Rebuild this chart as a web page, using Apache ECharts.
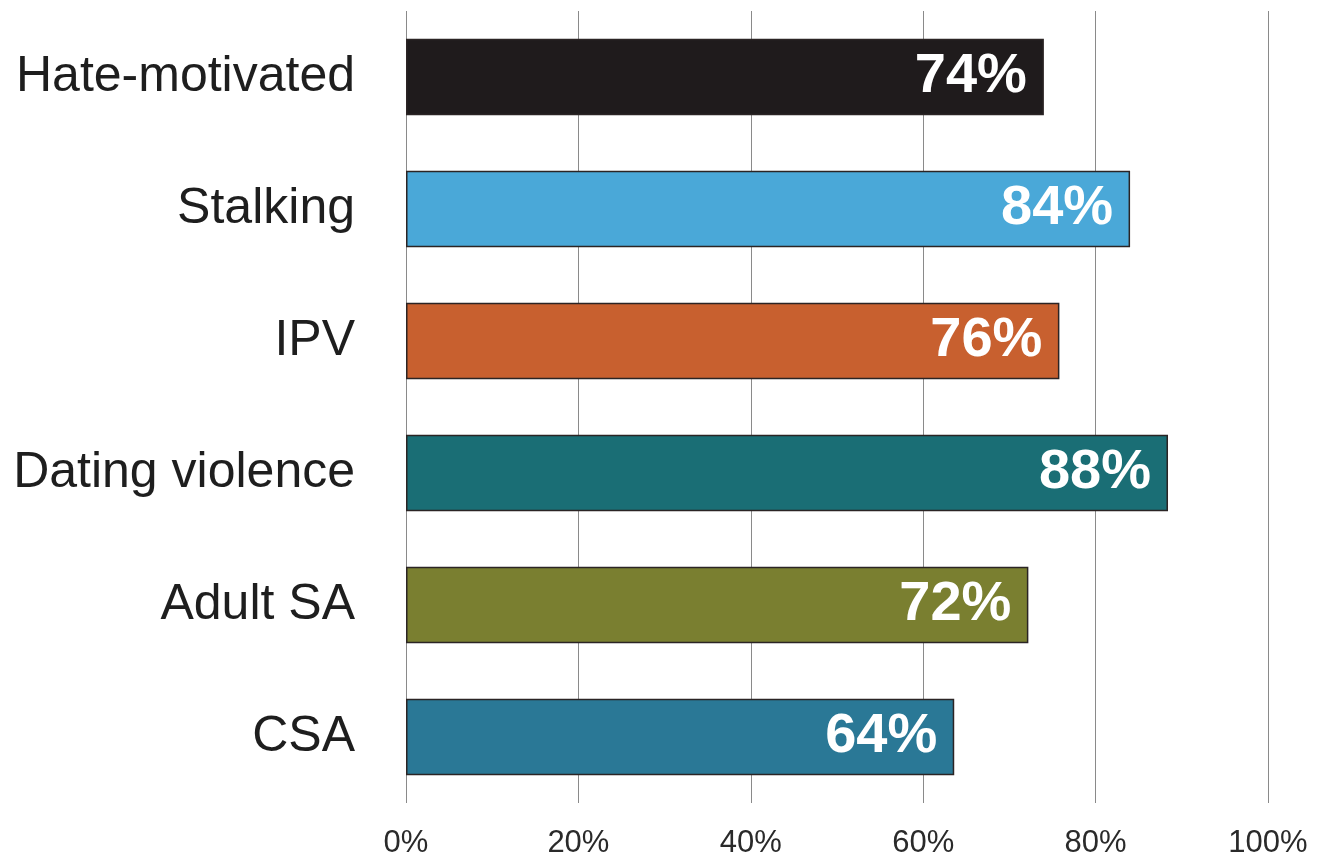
<!DOCTYPE html>
<html>
<head>
<meta charset="utf-8">
<script src="https://cdn.jsdelivr.net/npm/echarts@6/dist/echarts.min.js"></script>
<style>
  html, body { margin: 0; padding: 0; background: #fff; }
  #chart { width: 1318px; height: 859px; }
</style>
</head>
<body>
<div id="chart"></div>
<script>
// categories, top to bottom
var categories = ['Hate-motivated', 'Stalking', 'IPV', 'Dating violence', 'Adult SA', 'CSA'];
// bar lengths (percent)
var values = [74, 84, 75.8, 88.4, 72.2, 63.6];
// printed labels
var valueLabels = ['74%', '84%', '76%', '88%', '72%', '64%'];
var barColors = ['#1f1b1c', '#4aa8d8', '#c8602f', '#1a6e75', '#7a7f30', '#2a7896'];
var xTicks = [0, 20, 40, 60, 80, 100];

var chart = echarts.init(document.getElementById('chart'));

var option = {
    backgroundColor: '#fff',
    animation: false,
    grid: {
        left: 406,
        right: 50,
        top: 11,
        bottom: 55
    },
    xAxis: {
        type: 'value',
        min: 0,
        max: 100,
        interval: 20,
        axisLine: { show: false },
        axisTick: { show: false },
        axisLabel: {
            margin: 25,
            fontFamily: 'Liberation Sans',
            fontSize: 31,
            color: '#2a2a2a',
            formatter: function(v) { return xTicks.indexOf(v) >= 0 ? v + '%' : ''; }
        },
        splitLine: { show: true, lineStyle: { color: '#8a8a8a', width: 1 } }
    },
    yAxis: {
        type: 'category',
        inverse: true,
        data: categories,
        axisLine: { show: false },
        axisTick: { show: false },
        axisLabel: {
            margin: 51,
            fontFamily: 'Liberation Sans',
            fontSize: 50,
            color: '#1e1e1e',
            padding: [4, 0, 0, 0]
        }
    },
    series: [
        {
            type: 'bar',
            barWidth: '58%',
            data: values.map(function(v, i) {
                return {
                    value: v,
                    itemStyle: { color: barColors[i] }
                };
            }),
            itemStyle: {
                borderColor: '#2b2424',
                borderWidth: 1.5
            },
            label: {
                show: true,
                position: 'insideRight',
                distance: 17,
                fontFamily: 'Liberation Sans',
                fontWeight: 'bold',
                fontSize: 56,
                color: '#ffffff',
                formatter: function(p) { return valueLabels[p.dataIndex]; }
            }
        }
    ]
};

chart.setOption(option);
</script>
</body>
</html>
